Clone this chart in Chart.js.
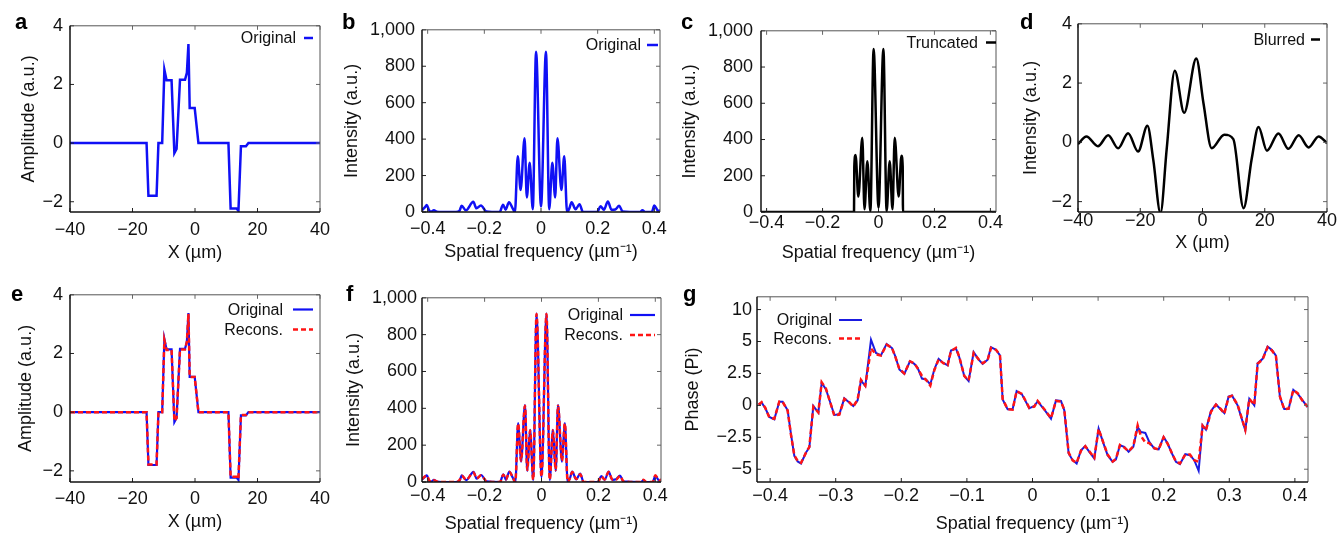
<!DOCTYPE html>
<html>
<head>
<meta charset="utf-8">
<title>Amplitude, spectrum and phase panels</title>
<script src="https://cdn.jsdelivr.net/npm/chart.js@4.4.1/dist/chart.umd.min.js"></script>
<style>
    body {
        margin: 0;
        width: 1338px;
        height: 534px;
        overflow: hidden;
        background: #fff;
        position: relative;
        font-family: 'Liberation Sans', Arial, sans-serif;
    }
    canvas { position: absolute; }
    .tag {
        position: absolute;
        font-weight: bold;
        font-size: 22px;
        line-height: 22px;
        color: #000;
    }
</style>
</head>
<body>
<canvas id="pa"></canvas>
<canvas id="pb"></canvas>
<canvas id="pc"></canvas>
<canvas id="pd"></canvas>
<canvas id="pe"></canvas>
<canvas id="pf"></canvas>
<canvas id="pg"></canvas>
<div class="tag" style="left:15px;top:11px">a</div>
<div class="tag" style="left:342px;top:11px">b</div>
<div class="tag" style="left:681px;top:11px">c</div>
<div class="tag" style="left:1020px;top:11px">d</div>
<div class="tag" style="left:11px;top:283px">e</div>
<div class="tag" style="left:346px;top:283px">f</div>
<div class="tag" style="left:683px;top:283px">g</div>

<script>
    // ---- data ----
    // a / e : amplitude vs X (um)
    const ampX        = [-40, -15.5, -14.9, -12.3, -11.7, -10.5, -9.8, -9.1, -7.5, -6.6, -5.9, -4.8, -3.2, -2.6, -2.1, -1.7, -0.1, 1.1, 10.7, 11.4, 13.3, 13.9, 14.7, 16.3, 17.1, 40];
    const ampOriginal = [0, 0, -1.8, -1.8, 0, 0, 2.5, 2.14, 2.14, -0.34, -0.2, 2.16, 2.16, 2.4, 3.38, 1.2, 1.2, 0, 0, -2.23, -2.23, -2.31, -0.11, -0.11, 0, 0];
    const ampRecons   = [0, 0, -1.78, -1.78, 0, 0, 2.45, 2.12, 2.12, -0.3, -0.2, 2.14, 2.14, 2.4, 3.35, 1.2, 1.2, 0, 0, -2.2, -2.2, -2.28, -0.1, -0.1, 0, 0];

    // b / f : intensity spectra
    const specFreq = [-0.420, -0.410, -0.403, -0.395, -0.388, -0.378, -0.368, -0.350, -0.300, -0.288, -0.280, -0.265, -0.239, -0.228, -0.212, -0.193, -0.146, -0.134, -0.125, -0.113, -0.100, -0.092, -0.082, -0.072, -0.058, -0.050, -0.040, -0.029, -0.0175, 0, 0.0175, 0.029, 0.040, 0.050, 0.058, 0.072, 0.082, 0.092, 0.100, 0.108, 0.122, 0.136, 0.148, 0.198, 0.210, 0.222, 0.236, 0.249, 0.262, 0.276, 0.288, 0.350, 0.358, 0.368, 0.391, 0.400, 0.414, 0.420];
    const specOriginal = [10, 25, 38, 10, 2, 10, 2, 0, 0, 6, 34, 9, 56, 20, 36, 3, 0, 40, 13, 54, 20, 0, 306, 121, 405, 80, 270, 15, 880, 30, 880, 15, 270, 80, 405, 121, 306, 0, 20, 54, 15, 43, 0, 0, 31, 13, 58, 12, 14, 34, 3, 0, 9, 0, 0, 36, 5, 10];
    const fOriginal = [12, 28, 36, 8, 2, 12, 2, 0, 0, 8, 36, 10, 55, 18, 38, 3, 0, 42, 12, 56, 20, 0, 320, 110, 418, 60, 283, 10, 916, 25, 916, 10, 283, 60, 418, 110, 320, 0, 20, 56, 14, 45, 0, 0, 32, 12, 56, 12, 15, 35, 3, 0, 10, 0, 0, 34, 6, 12];
    const fRecons   = [15, 30, 34, 10, 3, 10, 3, 0, 0, 10, 34, 12, 52, 20, 36, 4, 0, 40, 14, 54, 22, 0, 318, 115, 414, 65, 280, 12, 912, 28, 912, 12, 280, 65, 414, 115, 318, 0, 22, 54, 16, 42, 0, 0, 30, 14, 54, 14, 14, 33, 4, 0, 12, 0, 0, 36, 8, 14];

    // c : truncated spectrum
    const cFreq      = [-0.42, -0.0875, -0.0865, -0.082, -0.072, -0.058, -0.050, -0.040, -0.029, -0.0175, 0, 0.0175, 0.029, 0.040, 0.050, 0.058, 0.072, 0.082, 0.0865, 0.0875, 0.42];
    const cTruncated = [0, 0, 250, 315, 85, 410, 15, 280, 5, 900, 25, 900, 5, 280, 15, 410, 85, 310, 250, 0, 0];

    // d : blurred
    const blurX = [-40, -37.3, -33.6, -30.3, -27.1, -23.9, -20.7, -17.7, -15.8, -13.5, -11.5, -8.9, -5.9, -2.0, 0.3, 2.95, 7.0, 9.9, 13.2, 15.8, 18.0, 20.7, 24.4, 27.6, 30.9, 34.1, 37.3, 40];
    const blurY = [-0.06, 0.2, -0.13, 0.24, -0.2, 0.31, -0.31, 0.56, -0.6, -2.38, -0.22, 2.42, 1.0, 2.83, 1.33, -0.2, 0.26, 0.11, -2.22, -0.56, 0.52, -0.28, 0.3, -0.22, 0.24, -0.17, 0.2, -0.03];

    // g : phase
    const phaseFreq = [-0.4175, -0.4129, -0.4073, -0.4012, -0.3936, -0.3860, -0.3809, -0.3733, -0.3682, -0.3631, -0.3580, -0.3529, -0.3453, -0.3402, -0.3341, -0.3265, -0.3214, -0.3148, -0.3021, -0.2945, -0.2869, -0.2803, -0.2732, -0.2666, -0.2615, -0.2549, -0.2462, -0.2386, -0.2310, -0.2224, -0.2142, -0.2091, -0.2030, -0.1954, -0.1868, -0.1802, -0.1751, -0.1685, -0.1624, -0.1558, -0.1497, -0.1431, -0.1360, -0.1294, -0.1243, -0.1167, -0.1116, -0.1040, -0.0974, -0.0897, -0.0821, -0.0760, -0.0684, -0.0633, -0.0557, -0.0496, -0.0455, -0.0379, -0.0303, -0.0242, -0.0161, -0.0049, 0.0027, 0.0078, 0.0180, 0.0282, 0.0358, 0.0434, 0.0485, 0.0551, 0.0612, 0.0673, 0.0739, 0.0805, 0.0866, 0.0942, 0.1008, 0.1079, 0.1145, 0.1222, 0.1272, 0.1333, 0.1399, 0.1465, 0.1537, 0.1603, 0.1653, 0.1720, 0.1780, 0.1857, 0.1923, 0.1999, 0.2060, 0.2126, 0.2187, 0.2248, 0.2329, 0.2400, 0.2466, 0.2533, 0.2593, 0.2644, 0.2721, 0.2797, 0.2873, 0.2924, 0.2990, 0.3041, 0.3127, 0.3244, 0.3305, 0.3381, 0.3432, 0.3508, 0.3584, 0.3650, 0.3711, 0.3772, 0.3838, 0.3904, 0.3976, 0.4042, 0.4118, 0.4194];
    const phaseOriginal = [0.08, 0.21, -0.23, -0.91, -1.09, 0.29, 0.29, -0.39, -2.26, -3.95, -4.39, -4.55, -3.69, -3.30, -0.05, -0.57, 1.77, 1.25, -0.75, -0.70, 0.55, 0.26, -0.05, 0.39, 1.95, 1.51, 5.14, 4.10, 3.92, 4.81, 4.49, 3.84, 2.81, 2.47, 3.45, 3.25, 2.94, 2.10, 2.03, 1.64, 2.81, 3.64, 3.32, 3.14, 4.29, 4.44, 3.77, 2.29, 1.90, 4.16, 3.58, 3.25, 3.58, 4.55, 4.36, 3.92, 0.47, -0.31, -0.31, 1.12, 0.86, -0.23, -0.05, 0.31, -0.34, -1.04, 0.39, 0.34, -0.39, -3.77, -4.29, -4.55, -3.51, -3.19, -3.64, -4.16, -1.82, -2.94, -3.90, -4.42, -4.23, -3.12, -3.25, -3.64, -3.25, -1.69, -2.08, -2.16, -2.86, -3.38, -3.45, -2.47, -2.99, -3.77, -4.42, -4.60, -3.82, -3.90, -4.29, -5.12, -1.56, -1.90, -0.44, 0.08, -0.34, -0.60, 0.70, 0.78, 0.00, -1.95, 0.52, 0.00, 3.30, 3.64, 4.60, 4.34, 3.90, 0.65, -0.29, -0.29, 1.22, 0.91, 0.39, -0.13];
    const phaseRecons   = [0.05, 0.25, -0.2, -0.95, -1.05, 0.3, 0.27, -0.4, -2.3, -3.9, -4.35, -4.5, -3.7, -3.25, -0.1, -0.55, 1.8, 1.3, -0.8, -0.72, 0.5, 0.3, -0.1, 0.45, 2.0, 1.55, 4.45, 4.0, 3.9, 4.75, 4.5, 3.8, 2.85, 2.5, 3.45, 3.3, 2.9, 2.3, 2.0, 1.55, 2.75, 3.6, 3.3, 3.15, 4.25, 4.5, 3.8, 2.3, 1.95, 4.1, 3.6, 3.3, 3.55, 4.5, 4.35, 3.95, 0.5, -0.3, -0.33, 1.1, 0.9, -0.2, -0.1, 0.35, -0.3, -1.0, 0.35, 0.3, -0.35, -3.7, -4.3, -4.5, -3.55, -3.2, -3.6, -4.1, -1.85, -2.9, -3.85, -4.4, -4.2, -3.1, -3.3, -3.6, -3.2, -1.56, -2.4, -2.9, -2.95, -3.35, -3.45, -2.5, -3.0, -3.75, -4.4, -4.55, -3.85, -3.85, -4.3, -4.42, -1.6, -1.95, -0.5, 0.05, -0.3, -0.65, 0.65, 0.75, 0.05, -1.9, 0.5, 0.05, 3.25, 3.6, 4.55, 4.3, 3.85, 0.7, -0.3, -0.25, 1.2, 0.95, 0.35, -0.1];

    // tick values and labels
    const posTicks = [-40, -20, 0, 20, 40];
    const posTickLabels = ['\u221240', '\u221220', '0', '20', '40'];
    const ampTicks = [-2, 0, 2, 4];
    const ampTickLabels = ['\u22122', '0', '2', '4'];
    const freqTicks = [-0.4, -0.2, 0, 0.2, 0.4];
    const freqTickLabels = ['\u22120.4', '\u22120.2', '0', '0.2', '0.4'];
    const intTicks = [0, 200, 400, 600, 800, 1000];
    const intTickLabels = ['0', '200', '400', '600', '800', '1,000'];
    const phaseFreqTicks = [-0.4, -0.3, -0.2, -0.1, 0, 0.1, 0.2, 0.3, 0.4];
    const phaseFreqTickLabels = ['\u22120.4', '\u22120.3', '\u22120.2', '\u22120.1', '0', '0.1', '0.2', '0.3', '0.4'];
    const phaseTicks = [-5, -2.5, 0, 2.5, 5, 7.5];
    const phaseTickLabels = ['\u22125', '\u22122.5', '0', '2.5', '5', '10'];

    const BLUE = '#1010f5';
    const RED = '#ff1414';
    const BLACK = '#000000';

    Chart.defaults.font.family = "'Liberation Sans', Arial, sans-serif";
    Chart.defaults.font.size = 18;
    Chart.defaults.color = '#111';

    function pts(xs, ys) {
        return xs.map((x, i) => ({ x: x, y: ys[i] }));
    }

    function solid(label, xs, ys, color, width, smooth) {
        return {
            label: label, data: pts(xs, ys), borderColor: color, borderWidth: width,
            pointRadius: 0, fill: false, order: 2,
            cubicInterpolationMode: smooth ? 'monotone' : 'default', tension: 0
        };
    }

    function dashed(label, xs, ys, smooth) {
        const d = solid(label, xs, ys, RED, 2.5, smooth);
        d.borderDash = [5, 3];
        d.order = 1;
        return d;
    }

    // frame with inward ticks on all four sides + gnuplot style legend
    const panelFrame = {
        id: 'panelFrame',
        afterDraw(chart, args, opts) {
            const ctx = chart.ctx;
            const c = chart.chartArea;
            const xs = chart.scales.x, ys = chart.scales.y;
            const seg = (x1, y1, x2, y2, col, w) => {
                ctx.strokeStyle = col;
                ctx.lineWidth = w;
                ctx.beginPath();
                ctx.moveTo(x1, y1);
                ctx.lineTo(x2, y2);
                ctx.stroke();
            };
            ctx.save();
            ctx.setLineDash([]);
            xs.ticks.forEach(t => {
                const p = xs.getPixelForValue(t.value);
                seg(p, c.bottom, p, c.bottom - 4, '#222', 1);
                seg(p, c.top, p, c.top + 4, '#666', 1);
            });
            ys.ticks.forEach(t => {
                const p = ys.getPixelForValue(t.value);
                seg(c.left, p, c.left + 4, p, '#222', 1);
                seg(c.right, p, c.right - 4, p, '#666', 1);
            });
            seg(c.left, c.top, c.right, c.top, '#555', 1);
            seg(c.right, c.top, c.right, c.bottom, '#555', 1);
            seg(c.left, c.bottom, c.right, c.bottom, '#111', 1.5);
            seg(c.left, c.top, c.left, c.bottom, '#111', 1.5);

            const lg = opts.legend;
            if (lg) {
                ctx.font = "16px 'Liberation Sans', Arial, sans-serif";
                ctx.textAlign = 'right';
                ctx.textBaseline = 'middle';
                ctx.fillStyle = '#111';
                chart.data.datasets.forEach((ds, i) => {
                    const y = lg.rows[i] - opts.originY;
                    ctx.fillText(ds.label, lg.right - opts.originX, y + 1);
                    ctx.setLineDash(ds.borderDash || []);
                    seg(lg.sample[0] - opts.originX, y, lg.sample[1] - opts.originX, y, ds.borderColor, ds.borderWidth);
                    ctx.setLineDash([]);
                });
            }
            ctx.restore();
        }
    };

    const panels = [
        { id: 'pa', area: [70, 23, 320, 212], yw: 65, xh: 52, padRight: 20, xPad: 7, yPad: 7, yTitlePad: 13,
          x: [-40, 40], y: [-2.35, 4], xTicks: posTicks, xLabels: posTickLabels, yTicks: ampTicks, yLabels: ampTickLabels,
          xTitle: 'X (\u00b5m)', yTitle: 'Amplitude (a.u.)',
          legend: { right: 296, rows: [38], sample: [304, 313] },
          datasets: [solid('Original', ampX, ampOriginal, BLUE, 2.5, false)] },
        { id: 'pb', area: [422, 27, 660, 212], yw: 82, xh: 51, padRight: 20, xPad: 6, yPad: 7, yTitlePad: 1,
          x: [-0.42, 0.42], y: [0, 1000], xTicks: freqTicks, xLabels: freqTickLabels, yTicks: intTicks, yLabels: intTickLabels,
          xTitle: 'Spatial frequency (\u00b5m\u207b\u00b9)', yTitle: 'Intensity (a.u.)',
          legend: { right: 641, rows: [45], sample: [647, 658] },
          datasets: [solid('Original', specFreq, specOriginal, BLUE, 2.5, true)] },
        { id: 'pc', area: [761, 27, 996, 212], yw: 83, xh: 52, padRight: 20, xPad: 0, yPad: 8, yTitlePad: 1,
          x: [-0.42, 0.42], y: [0, 1000], xTicks: freqTicks, xLabels: freqTickLabels, yTicks: intTicks, yLabels: intTickLabels,
          xTitle: 'Spatial frequency (\u00b5m\u207b\u00b9)', yTitle: 'Intensity (a.u.)',
          legend: { right: 978, rows: [42.5], sample: [986, 996] },
          datasets: [solid('Truncated', cFreq, cTruncated, BLACK, 2.5, true)] },
        { id: 'pd', area: [1078, 22, 1327, 212], yw: 60, xh: 42, padRight: 10, xPad: -2, yPad: 6, yTitlePad: 2,
          x: [-40, 40], y: [-2.35, 4], xTicks: posTicks, xLabels: posTickLabels, yTicks: ampTicks, yLabels: ampTickLabels,
          xTitle: 'X (\u00b5m)', yTitle: 'Intensity (a.u.)',
          legend: { right: 1305, rows: [39.5], sample: [1311, 1320] },
          datasets: [solid('Blurred', blurX, blurY, BLACK, 2.5, true)] },
        { id: 'pe', area: [70, 292, 320, 482], yw: 65, xh: 51, padRight: 20, xPad: 6, yPad: 7, yTitlePad: 10,
          x: [-40, 40], y: [-2.38, 4], xTicks: posTicks, xLabels: posTickLabels, yTicks: ampTicks, yLabels: ampTickLabels,
          xTitle: 'X (\u00b5m)', yTitle: 'Amplitude (a.u.)',
          legend: { right: 283, rows: [309.5, 329.5], sample: [293, 313] },
          datasets: [solid('Original', ampX, ampOriginal, BLUE, 2.2, false), dashed('Recons.', ampX, ampRecons, false)] },
        { id: 'pf', area: [422, 297, 661, 482], yw: 82, xh: 53, padRight: 20, xPad: 3, yPad: 5, yTitlePad: 3,
          x: [-0.42, 0.42], y: [0, 1000], xTicks: freqTicks, xLabels: freqTickLabels, yTicks: intTicks, yLabels: intTickLabels,
          xTitle: 'Spatial frequency (\u00b5m\u207b\u00b9)', yTitle: 'Intensity (a.u.)',
          legend: { right: 623, rows: [315, 335], sample: [630, 655] },
          datasets: [solid('Original', specFreq, fOriginal, BLUE, 2.2, true), dashed('Recons.', specFreq, fRecons, true)] },
        { id: 'pg', area: [757, 296, 1308, 482], yw: 77, xh: 53, padRight: 20, xPad: 3, yPad: 5, yTitlePad: 2,
          x: [-0.42, 0.42], y: [-6, 8.5], xTicks: phaseFreqTicks, xLabels: phaseFreqTickLabels, yTicks: phaseTicks, yLabels: phaseTickLabels,
          xTitle: 'Spatial frequency (\u00b5m\u207b\u00b9)', yTitle: 'Phase (Pi)',
          legend: { right: 832, rows: [320, 338.5], sample: [839, 862] },
          datasets: [solid('Original', phaseFreq, phaseOriginal, '#1a1ae0', 2, false), dashed('Recons.', phaseFreq, phaseRecons, false)] }
    ];

    panels.forEach(p => {
        const [L, T, R, B] = p.area;
        const padTop = 15;
        const left = L - p.yw;
        const top = T - padTop;
        const canvas = document.getElementById(p.id);
        canvas.width = p.yw + (R - L) + p.padRight;
        canvas.height = padTop + (B - T) + p.xh;
        canvas.style.left = left + 'px';
        canvas.style.top = top + 'px';

        new Chart(canvas, {
            type: 'line',
            data: { datasets: p.datasets },
            plugins: [panelFrame],
            options: {
                responsive: false,
                animation: false,
                layout: { padding: { top: padTop, right: p.padRight, left: 0, bottom: 0 } },
                plugins: {
                    legend: { display: false },
                    tooltip: { enabled: false },
                    panelFrame: { legend: p.legend, originX: left, originY: top }
                },
                scales: {
                    x: {
                        type: 'linear', min: p.x[0], max: p.x[1],
                        grid: { display: false, drawTicks: false }, border: { display: false },
                        afterBuildTicks: s => { s.ticks = p.xTicks.map(v => ({ value: v })); },
                        afterFit: s => { s.height = p.xh; },
                        ticks: { padding: p.xPad, maxRotation: 0, autoSkip: false, color: '#111',
                                 callback: (v, i) => p.xLabels[i] },
                        title: { display: true, text: p.xTitle, color: '#111', padding: { top: 0, bottom: 0 } }
                    },
                    y: {
                        type: 'linear', min: p.y[0], max: p.y[1],
                        grid: { display: false, drawTicks: false }, border: { display: false },
                        afterBuildTicks: s => { s.ticks = p.yTicks.map(v => ({ value: v })); },
                        afterFit: s => { s.width = p.yw; },
                        ticks: { padding: p.yPad, autoSkip: false, color: '#111',
                                 callback: (v, i) => p.yLabels[i] },
                        title: { display: true, text: p.yTitle, color: '#111', padding: { top: p.yTitlePad, bottom: 0 } }
                    }
                }
            }
        });
    });
</script>
</body>
</html>
